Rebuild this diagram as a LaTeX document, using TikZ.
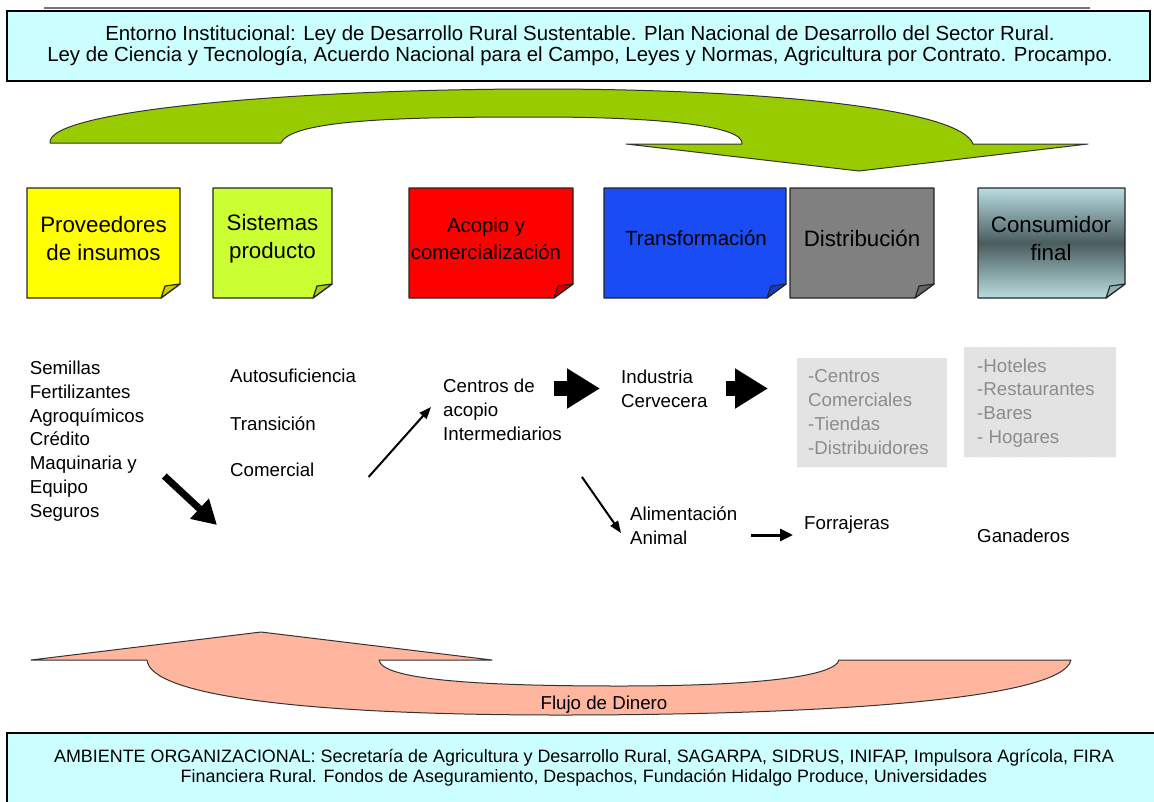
\documentclass[tikz,border=0pt]{standalone}
\usepackage{fontspec}
\setmainfont{Liberation Sans}
\usepackage{xcolor}
\usetikzlibrary{arrows.meta}
\usetikzlibrary{patterns}
\definecolor{verdeflecha}{RGB}{153,204,0}
\definecolor{salmon}{RGB}{255,181,158}
\definecolor{celeste}{RGB}{204,255,255}
\definecolor{amarillo}{RGB}{255,255,0}
\definecolor{lima}{RGB}{204,255,51}
\definecolor{rojo}{RGB}{255,0,0}
\definecolor{azul}{RGB}{26,76,245}
\definecolor{gris}{RGB}{128,128,128}
\definecolor{aguaclaro}{RGB}{184,221,224}
\definecolor{aguaoscuro}{RGB}{74,92,94}
\definecolor{grisclaro}{RGB}{228,228,228}

\tikzset{
  nota/.style={draw=black!85, line width=1.2pt, line join=round},
  marco/.style={draw=black, line width=1.5pt, fill=celeste},
  etiqueta/.style={anchor=west, inner sep=0pt, align=left, font=\fontsize{18.7}{23.8}\selectfont},
  titulo/.style={inner sep=0pt, align=center, font=\fontsize{22.3}{28}\selectfont},
  flechita/.style={draw=black, line width=2pt, -{Triangle[length=12pt,width=9pt]}},
  flechota/.style={draw=black, line width=7pt, -{Triangle[length=24pt,width=26pt]}},
  bloque/.style={draw=black, line width=15pt, -{Triangle[length=33pt,width=38pt]}}
}

\begin{document}
\begin{tikzpicture}[x=1pt,y=-1pt]
  \useasboundingbox (0,0) rectangle (1154,801);
  \clip (0,0) rectangle (1154,801);
  \fill[white] (0,0) rectangle (1154,801);

  % entorno institucional
  \draw[black!55, line width=1.5pt] (44,8) -- (1090,8);
  \draw[marco] (7,11) rectangle (1150,81);
  \node[inner sep=0pt, align=center, font=\fontsize{20.4}{21}\selectfont] (entorno) at (580,45.5)
    {Entorno Institucional: Ley de Desarrollo Rural Sustentable. Plan Nacional de Desarrollo del Sector Rural.\\
     Ley de Ciencia y Tecnología, Acuerdo Nacional para el Campo, Leyes y Normas, Agricultura por Contrato. Procampo.};

  % flecha verde
  \draw[fill=verdeflecha, draw=black!80, line width=1pt, line join=round]
    (50,143) -- (281,143) .. controls (292,118) and (420,117) .. (540,117)
    .. controls (660,117) and (745,126) .. (742,144) -- (626,144) -- (859,171) -- (1088,144) -- (973,144)
    .. controls (960,108) and (760,89) .. (540,89) .. controls (300,89) and (45,110) .. (50,143) -- cycle;

  % notas
  \draw[nota, fill=amarillo] (27,188) -- (180,188) -- (180,284) -- (161,298) -- (27,298) -- cycle;
  \draw[nota, fill=amarillo!80!black] (180,284) -- (161,298) -- (165,286) -- cycle;
  \draw[nota, fill=lima] (213,188) -- (332,188) -- (332,284) -- (313,298) -- (213,298) -- cycle;
  \draw[nota, fill=lima!80!black] (332,284) -- (313,298) -- (317,286) -- cycle;
  \draw[nota, fill=rojo] (409,188) -- (573,188) -- (573,284) -- (554,298) -- (409,298) -- cycle;
  \draw[nota, fill=rojo!80!black] (573,284) -- (554,298) -- (558,286) -- cycle;
  \draw[nota, fill=azul] (604,188) -- (786,188) -- (786,284) -- (767,298) -- (604,298) -- cycle;
  \draw[nota, fill=azul!80!black] (786,284) -- (767,298) -- (771,286) -- cycle;
  \draw[nota, fill=gris] (790,188) -- (934,188) -- (934,284) -- (915,298) -- (790,298) -- cycle;
  \draw[nota, fill=gris!80!black] (934,284) -- (915,298) -- (919,286) -- cycle;
  \draw[nota, top color=aguaclaro, bottom color=aguaclaro, middle color=aguaoscuro]
    (978,188) -- (1125,188) -- (1125,284) -- (1106,298) -- (978,298) -- cycle;
  \draw[nota, fill=aguaclaro!80!black] (1125,284) -- (1106,298) -- (1110,286) -- cycle;

  \node[titulo] (proveedores) at (103.5,239) {Proveedores\\de insumos};
  \node[titulo] (sistemas) at (272.5,239) {Sistemas\\producto};
  \node[titulo, font=\fontsize{20.3}{27}\selectfont] (acopio) at (486,239) {Acopio y\\comercialización};
  \node[titulo, font=\fontsize{20.5}{27}\selectfont] (transformacion) at (696,238) {Transformación};
  \node[titulo] (distribucion) at (862,238) {Distribución};
  \node[titulo] (consumidor) at (1051,239) {Consumidor\\final};

  % cadena
  \fill[grisclaro] (797,358) rectangle (947,467);
  \fill[pattern=crosshatch dots, pattern color=black!12] (797,358) rectangle (947,467);
  \fill[grisclaro] (964,347) rectangle (1116,457);
  \fill[pattern=crosshatch dots, pattern color=black!12] (964,347) rectangle (1116,457);

  \node[etiqueta] (insumos) at (29.6,441) {Semillas\\Fertilizantes\\Agroquímicos\\Crédito\\Maquinaria y\\Equipo\\Seguros};
  \node[etiqueta] (autosuficiencia) at (230,376) {Autosuficiencia};
  \node[etiqueta] (transicion) at (230,424) {Transición};
  \node[etiqueta] (comercial) at (230,470) {Comercial};
  \node[etiqueta] (centros) at (443,410) {Centros de\\acopio\\Intermediarios};
  \node[etiqueta] (industria) at (621,388.5) {Industria\\Cervecera};
  \node[etiqueta, text=black!45] (comercios) at (808,412) {-Centros\\Comerciales\\-Tiendas\\-Distribuidores};
  \node[etiqueta, text=black!45] (hoteles) at (977,403) {-Hoteles\\-Restaurantes\\-Bares\\- Hogares};
  \node[etiqueta] (alimentacion) at (630,525.5) {Alimentación\\Animal};
  \node[etiqueta] (forrajeras) at (804,525) {Forrajeras};
  \node[etiqueta] (ganaderos) at (977,536) {Ganaderos};

  \coordinate (destino) at (217,525);
  \draw[flechota] ([shift={(20pt,-35pt)}]insumos.east) -- (destino);
  \draw[flechita] ([shift={(54pt,-7pt)}]comercial.east) -- ([shift={(-12pt,3pt)}]centros.west);
  \draw[bloque, shorten <=-8pt, shorten >=21pt] (centros.east |- industria.west) -- (industria.west);
  \draw[bloque, shorten <=18pt, shorten >=40pt] (industria.east) -- (comercios.west |- industria.east);
  \draw[flechita] ([shift={(20pt,-36pt)}]centros.south east) -- ([shift={(-9pt,-7.5pt)}]alimentacion.west);
  \draw[flechita, line width=3pt, -{Triangle[length=13pt,width=12pt]}]
    ([shift={(14pt,-9.5pt)}]alimentacion.east) -- ([shift={(-11pt,-10pt)}]forrajeras.west);

  % flujo de dinero
  \draw[fill=salmon, draw=black!80, line width=1pt, line join=round]
    (31,660) -- (261,632) -- (492,660) -- (379,660) .. controls (382,680) and (480,686) .. (620,686)
    .. controls (760,686) and (835,676) .. (839,660) -- (1071,660)
    .. controls (1062,700) and (820,715) .. (560,715) .. controls (300,715) and (150,695) .. (147,660) -- cycle;
  \node[inner sep=0pt, font=\fontsize{18.7}{20}\selectfont] (flujo) at (604,705) {Flujo de Dinero};

  % ambiente organizacional
  \draw[marco, line width=2pt] (7,733) rectangle (1165,812);
  \node[inner sep=0pt, align=center, font=\fontsize{17.9}{20}\selectfont] (ambiente) at (584,768)
    {AMBIENTE ORGANIZACIONAL: Secretaría de Agricultura y Desarrollo Rural, SAGARPA, SIDRUS, INIFAP, Impulsora Agrícola, FIRA\\
     Financiera Rural. Fondos de Aseguramiento, Despachos, Fundación Hidalgo Produce, Universidades};
\end{tikzpicture}
\end{document}
